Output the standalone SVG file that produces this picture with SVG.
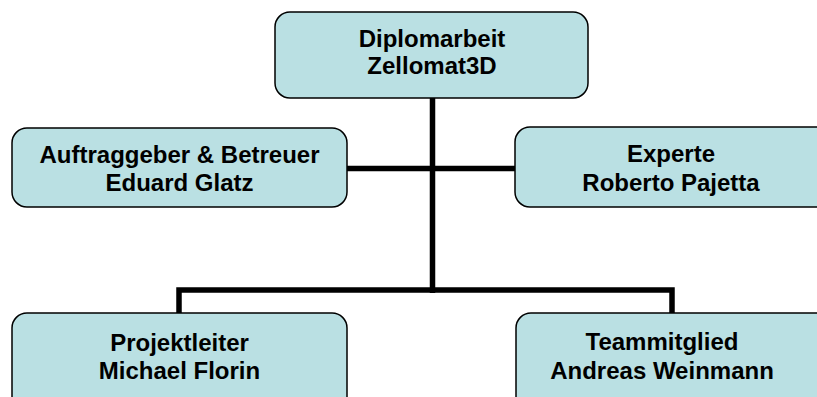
<svg xmlns="http://www.w3.org/2000/svg" width="817" height="397" viewBox="0 0 817 397">
<style>
.box{fill:#BAE0E3;stroke:#000;stroke-width:1.5}
.t{font-family:"Liberation Sans",Arial,sans-serif;font-weight:bold;font-size:24px;fill:#000;text-anchor:middle}
.c{fill:none;stroke:#000;stroke-width:5.5;stroke-linecap:butt;stroke-linejoin:miter}
</style>
<rect width="817" height="397" fill="#fff"/>
<g id="connectors">
<line class="c" x1="432.5" y1="98" x2="432.5" y2="293"/>
<line class="c" x1="347" y1="168.5" x2="515" y2="168.5"/>
<polyline class="c" points="179,313 179,290 672,290 672,313"/>
</g>
<g id="n-diplomarbeit">
<rect class="box" x="275" y="12" width="313" height="86" rx="15"/>
<text class="t" x="432" y="47">Diplomarbeit</text>
<text class="t" x="432" y="74">Zellomat3D</text>
</g>
<g id="n-auftraggeber">
<rect class="box" x="12" y="128" width="335" height="79" rx="15"/>
<text class="t" x="179.5" y="163">Auftraggeber &amp; Betreuer</text>
<text class="t" x="179.5" y="191">Eduard Glatz</text>
</g>
<g id="n-experte">
<rect class="box" x="515" y="127" width="320" height="80" rx="15"/>
<text class="t" x="671" y="162">Experte</text>
<text class="t" x="671" y="191">Roberto Pajetta</text>
</g>
<g id="n-projektleiter">
<rect class="box" x="12" y="313" width="335" height="100" rx="15"/>
<text class="t" x="179.5" y="351">Projektleiter</text>
<text class="t" x="179.5" y="379">Michael Florin</text>
</g>
<g id="n-teammitglied">
<rect class="box" x="516" y="313" width="320" height="100" rx="15"/>
<text class="t" x="662" y="350">Teammitglied</text>
<text class="t" x="662" y="379">Andreas Weinmann</text>
</g>
</svg>
